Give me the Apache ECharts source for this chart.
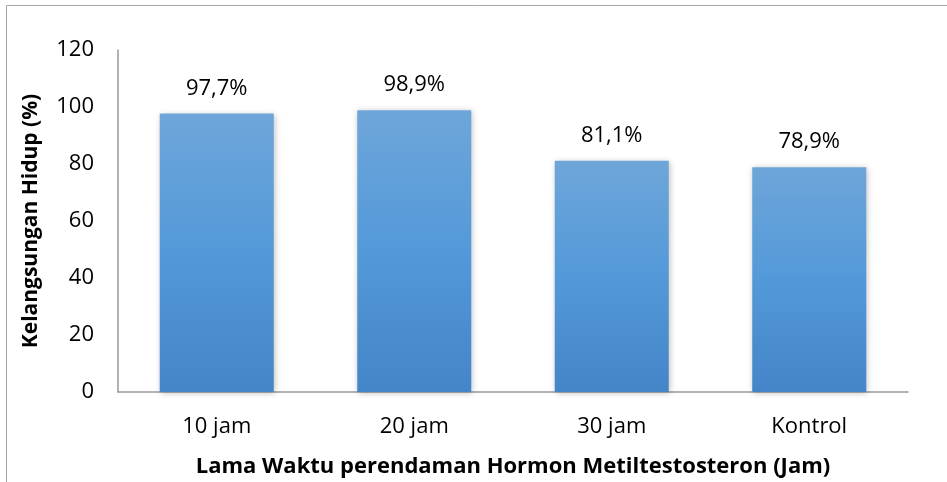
<!DOCTYPE html>
<html>
<head>
<meta charset="utf-8">
<script src="https://cdn.jsdelivr.net/npm/echarts@6/dist/echarts.min.js"></script>
<style>html,body{margin:0;padding:0;background:#fff;}#c{width:947px;height:482px;}</style>
</head>
<body>
<div id="c"></div>
<script>
const categories = ['10 jam', '20 jam', '30 jam', 'Kontrol'];
const values = [97.7, 98.9, 81.1, 78.9];
const valueLabels = ['97,7%', '98,9%', '81,1%', '78,9%'];
const yTicks = [0, 20, 40, 60, 80, 100, 120];

const font = '"Open Sans", "Noto Sans", sans-serif';
const chart = echarts.init(document.getElementById('c'));
chart.setOption({
  animation: false,
  graphic: [{
    type: 'rect', shape: { x: 6.5, y: 5.5, width: 1000, height: 1000 },
    style: { fill: 'none', stroke: '#a6a6a6', lineWidth: 1 }, silent: true
  }],
  grid: { left: 118, right: 39, top: 50, bottom: 90, outerBoundsMode: 'none', containLabel: false },
  xAxis: {
    type: 'category', data: categories,
    name: 'Lama Waktu perendaman Hormon Metiltestosteron (Jam)',
    nameLocation: 'middle', nameGap: 64,
    nameTextStyle: { fontFamily: font, fontWeight: 'bold', fontSize: 22, color: '#000' },
    axisLine: { lineStyle: { color: '#999', width: 1.5 } },
    axisTick: { show: false },
    axisLabel: { fontFamily: font, fontSize: 22, color: '#000', margin: 24 }
  },
  yAxis: {
    type: 'value', min: yTicks[0], max: yTicks[yTicks.length - 1], interval: 20,
    name: 'Kelangsungan Hidup (%)',
    nameLocation: 'middle', nameGap: 76,
    nameTextStyle: { fontFamily: font, fontWeight: 'bold', fontSize: 21, color: '#000' },
    axisLine: { show: true, lineStyle: { color: '#999', width: 1.5 } },
    axisTick: { show: false },
    splitLine: { show: false },
    axisLabel: { fontFamily: font, fontSize: 22, color: '#000', margin: 24 }
  },
  series: [{
    type: 'bar', data: values, barWidth: 114,
    itemStyle: {
      color: new echarts.graphic.LinearGradient(0, 0, 0, 1, [
        { offset: 0, color: '#6ea6d9' },
        { offset: 0.5, color: '#5399d9' },
        { offset: 1, color: '#4485c8' }
      ]),
      shadowColor: 'rgba(0,0,0,0.25)', shadowBlur: 6, shadowOffsetX: 1, shadowOffsetY: 1
    },
    label: {
      show: true, position: 'top', distance: 14,
      fontFamily: font, fontSize: 22, color: '#000',
      formatter: p => valueLabels[p.dataIndex]
    }
  }]
});
</script>
</body>
</html>
